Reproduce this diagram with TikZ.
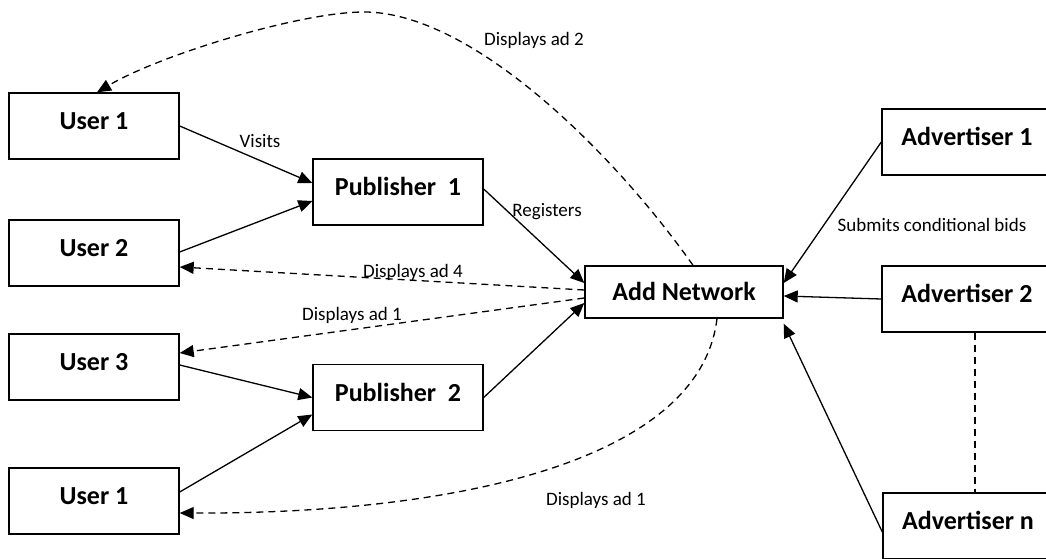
\documentclass[tikz,border=0pt]{standalone}
\usepackage{fontspec}
\setmainfont{Carlito}
\usetikzlibrary{arrows.meta,calc}
\begin{document}
\begin{tikzpicture}[x=1pt,y=-1pt,
  box/.style={draw, line width=1.4pt, minimum width=170pt, minimum height=66pt, inner sep=0pt,
    font=\fontsize{26}{30}\selectfont\bfseries, text height=17pt, text depth=10pt},
  netbox/.style={draw, line width=1.4pt, minimum width=198pt, minimum height=52pt, inner sep=0pt,
    font=\fontsize{26}{30}\selectfont\bfseries, text height=17pt, text depth=0pt},
  conn/.style={line width=1.3pt, -{Triangle[length=14pt,width=12pt]}},
  dconn/.style={conn, dash pattern=on 7pt off 5pt},
  dline/.style={line width=1.3pt, dash pattern=on 7pt off 5pt},
  lbl/.style={font=\fontsize{19}{22}\selectfont, inner sep=0pt}]
\useasboundingbox (0,0) rectangle (1046,559);
% nodes
\node[box] (u1) at (94,126) {User 1};
\node[box] (u2) at (94,253) {User 2};
\node[box] (u3) at (94,367) {User 3};
\node[box] (u4) at (94,501) {User 1};
\node[box] (p1) at (398,192) {Publisher\ \ 1};
\node[box] (p2) at (398,397.5) {Publisher\ \ 2};
\node[netbox] (an) at (684,292) {Add Network};
\node[box] (a1) at (967,142) {Advertiser 1};
\node[box] (a2) at (967,299) {Advertiser 2};
\node[box] (ad) at (968,526) {Advertiser n};
% solid connectors
\draw[conn] (u1.east) -- ([yshift=9pt]p1.west);
\draw[conn] ([yshift=1pt]u2.east) -- ([yshift=-9pt]p1.west);
\draw[conn] ([yshift=2pt]u3.east) -- (p2.west);
\draw[conn] ([yshift=9pt]u4.east) -- ([yshift=-17pt]p2.west);
\draw[conn] ([yshift=3pt]p1.east) -- ([yshift=9pt]an.west);
\draw[conn] (p2.east) -- ([yshift=-11pt]an.west);
\draw[conn] (a1.west) -- ([yshift=9pt]an.east);
\draw[conn] (a2.west) -- ([yshift=-4pt]an.east);
\draw[conn] ([yshift=-6pt]ad.west) -- ([yshift=-5pt]an.south east);
% dashed connectors
\draw[dconn] ([yshift=2pt]an.west) -- ([yshift=-14pt]u2.east);
\draw[dconn] ([yshift=-6pt]an.west) -- ([yshift=14pt]u3.east);
\draw[dconn] ([xshift=9pt]an.north) .. controls (610,148) and (470,12) .. (364,12)
  .. controls (300,12) and (160,55) .. ([xshift=3pt]u1.north);
\draw[dconn] ([xshift=33pt]an.south) .. controls (700,460) and (460,514) .. ([yshift=-12pt]u4.east);
\draw[dline] ([xshift=8pt]a2.south) -- ([xshift=7pt]ad.north);
% labels
\node[lbl] (lvisits) at (260,141) {Visits};
\node[lbl] (lreg) at (547,212) {Registers};
\node[lbl] (lad2) at (534,40) {Displays ad 2};
\node[lbl] (lad4) at (413,272) {Displays ad 4};
\node[lbl] (lad1a) at (352,315) {Displays ad 1};
\node[lbl] (lbids) at (932,225) {Submits conditional bids};
\node[lbl] (lad1b) at (596,500) {Displays ad 1};
\end{tikzpicture}
\end{document}
